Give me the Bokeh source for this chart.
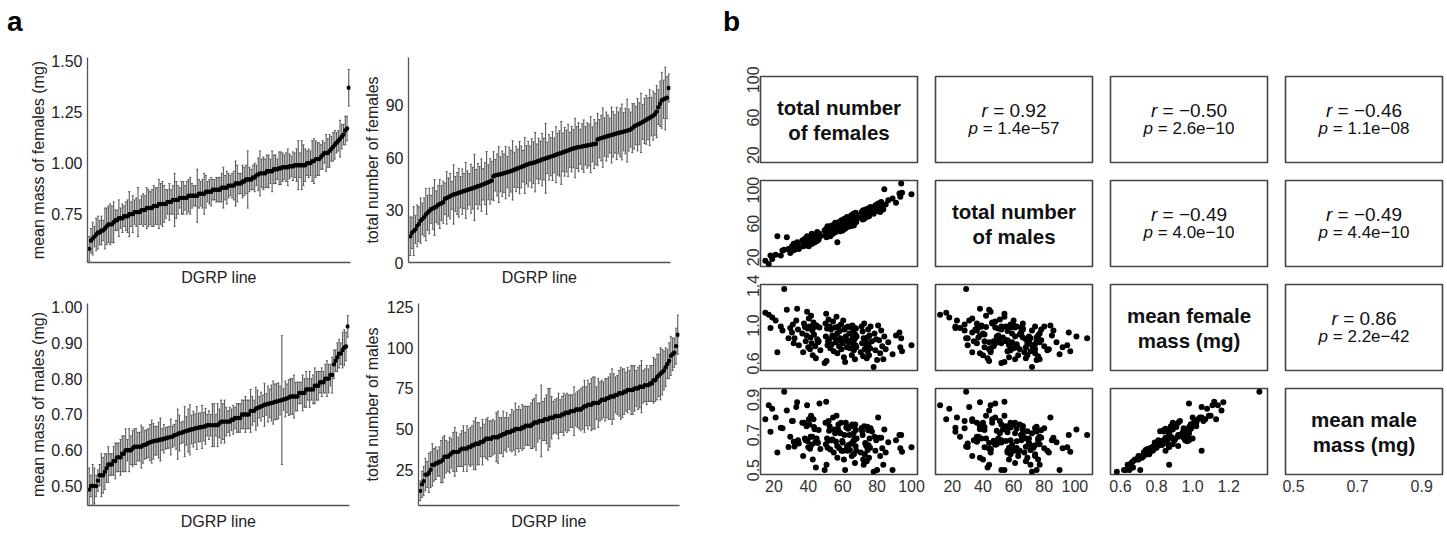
import numpy as np
from bokeh.plotting import figure
from bokeh.layouts import row, column
from bokeh.models import Label, FixedTicker, PrintfTickFormatter, Range1d, Div
from bokeh.embed import file_html
from bokeh.resources import INLINE

FONT = "Liberation Sans"
TXT_A = "#222222"
TXT_B = "#333333"

# ---------------- data (one entry per DGRP line) ----------------
females_n = [
    15, 17, 18, 19, 21, 22, 24, 25, 26, 27.5,
    28.5, 29.5, 30.5, 31, 31.5, 32, 33, 33.5, 34, 34.5,
    36.5, 37, 37.5, 38, 38.5, 39, 39.3, 39.6, 40, 40.3,
    40.6, 41, 41.3, 41.6, 42, 42.3, 42.6, 43, 43.3, 43.7,
    44, 44.4, 44.8, 45.2, 45.6, 46, 46.5, 47, 49.5, 50,
    50.2, 50.4, 50.6, 50.9, 51.2, 51.5, 51.8, 52.1, 52.4, 52.8,
    53.2, 53.6, 54, 54.4, 54.8, 55.2, 55.6, 56, 56.4, 56.8,
    56.9, 57.2, 57.5, 57.9, 58.2, 58.6, 59, 59.3, 59.7, 60,
    60.3, 60.7, 61, 61.4, 61.8, 62.1, 62.5, 62.8, 63.2, 63.5,
    63.9, 64.2, 64.6, 65, 65.3, 65.6, 65.9, 66.1, 66.3, 66.5,
    66.7, 66.9, 67.1, 67.3, 67.5, 67.7, 67.9, 68.1, 70.5, 71,
    71.3, 71.6, 71.9, 72.2, 72.5, 72.8, 73.1, 73.4, 73.7, 74,
    74.3, 74.5, 74.8, 75, 75.3, 75.6, 75.9, 76.2, 77, 78,
    78.5, 79, 79.5, 80, 80.6, 81.2, 81.8, 82.4, 83, 83.6,
    84.2, 85, 86.5, 89, 91, 93, 93.5, 94, 94.5, 100]

males_n = [
    16, 12, 22, 18, 23, 45, 22, 28, 29, 44,
    30, 25, 33, 28, 36, 29, 31, 38, 35, 30,
    40, 33, 36, 42, 34, 38, 45, 36, 41, 33,
    39, 44, 37, 42, 48, 36, 40, 46, 41, 38,
    47, 43, 39, 50, 44, 41, 48, 45, 52, 46,
    49, 54, 44, 50, 57, 47, 51, 49, 55, 45,
    52, 58, 50, 48, 56, 53, 61, 50, 54, 59,
    38, 55, 52, 62, 56, 51, 58, 64, 55, 52,
    60, 57, 66, 54, 61, 58, 68, 56, 62, 59,
    65, 60, 57, 70, 63, 60, 66, 62, 72, 58,
    65, 68, 61, 64, 73, 66, 62, 70, 67, 74,
    69, 65, 76, 71, 66, 74, 70, 77, 72, 68,
    75, 71, 78, 74, 69, 76, 73, 80, 75, 72,
    77, 82, 76, 75, 84, 78, 74, 86, 80, 77,
    101, 83, 88, 90, 85, 96, 92, 108, 97, 95]

female_mass = [
    1.13, 1.11, 0.975, 1.08, 1.05, 0.73, 0.99, 0.95, 1.37, 1.16,
    0.87, 0.975, 0.93, 1.01, 0.82, 0.87, 1.05, 1.17, 0.96, 0.80,
    0.92, 0.73, 1.02, 0.985, 0.84, 0.90, 1.14, 0.97, 0.78, 1.07,
    0.99, 0.76, 0.88, 1.10, 0.82, 0.95, 0.70, 1.03, 0.91, 0.985,
    0.79, 0.67, 1.00, 0.86, 0.83, 0.84, 0.98, 0.75, 0.62, 1.02,
    0.89, 1.12, 0.64, 0.97, 0.80, 0.84, 1.06, 0.86, 0.99, 0.77,
    0.96, 0.81, 0.90, 1.04, 0.74, 0.88, 0.98, 0.83, 1.09, 0.92,
    0.72, 0.85, 0.99, 0.79, 0.945, 0.87, 1.01, 0.76, 0.84, 0.82,
    1.05, 0.68, 0.96, 0.63, 0.89, 0.98, 0.78, 0.85, 0.99, 0.83,
    0.92, 0.77, 0.985, 0.84, 0.70, 1.00, 0.88, 0.81, 0.95, 0.75,
    0.98, 0.86, 0.66, 0.91, 0.80, 0.97, 0.78, 0.89, 0.73, 0.99,
    0.82, 0.94, 0.69, 0.87, 1.02, 0.76, 0.85, 0.83, 0.80, 0.67,
    0.88, 0.74, 0.96, 0.81, 0.70, 0.90, 0.77, 0.99, 0.84, 0.58,
    0.92, 0.75, 0.86, 0.65, 1.00, 0.85, 0.72, 0.95, 0.79, 0.66,
    0.89, 0.76, 0.83, 0.71, 0.90, 0.93, 0.78, 0.87, 0.74, 0.80]

male_mass = [
    0.79, 0.87, 0.718, 0.85, 0.80, 0.60, 0.742, 0.738, 0.946, 0.84,
    0.632, 0.69, 0.78, 0.78, 0.662, 0.635, 0.86, 0.887, 0.67, 0.652,
    0.77, 0.58, 0.77, 0.68, 0.67, 0.75, 0.87, 0.664, 0.63, 0.79,
    0.76, 0.622, 0.69, 0.81, 0.645, 0.69, 0.56, 0.79, 0.745, 0.733,
    0.658, 0.515, 0.68, 0.661, 0.655, 0.728, 0.88, 0.62, 0.50, 0.77,
    0.648, 0.89, 0.53, 0.68, 0.627, 0.667, 0.78, 0.724, 0.75, 0.617,
    0.67, 0.67, 0.675, 0.80, 0.60, 0.731, 0.71, 0.663, 0.81, 0.638,
    0.57, 0.736, 0.76, 0.626, 0.716, 0.71, 0.77, 0.61, 0.666, 0.657,
    0.61, 0.56, 0.70, 0.50, 0.77, 0.743, 0.633, 0.61, 0.735, 0.643,
    0.70, 0.614, 0.75, 0.651, 0.58, 0.76, 0.75, 0.665, 0.71, 0.59,
    0.67, 0.68, 0.54, 0.76, 0.636, 0.729, 0.61, 0.68, 0.60, 0.74,
    0.722, 0.70, 0.56, 0.53, 0.75, 0.59, 0.654, 0.648, 0.637, 0.55,
    0.747, 0.615, 0.727, 0.642, 0.57, 0.68, 0.628, 0.739, 0.72, 0.49,
    0.69, 0.61, 0.67, 0.50, 0.80, 0.685, 0.58, 0.685, 0.624, 0.53,
    0.732, 0.60, 0.659, 0.50, 0.67, 0.70, 0.625, 0.70, 0.605, 0.63]

females_err = [
    11, 9, 14, 8, 12, 10, 13, 9, 11, 15,
    10, 13, 8, 12, 16, 9, 11, 14, 10, 12,
    9, 15, 11, 13, 8, 17, 10, 12, 14, 9,
    13, 10, 16, 11, 9, 14, 12, 19, 10, 13,
    11, 15, 9, 12, 18, 10, 13, 11, 14, 9,
    12, 16, 10, 13, 11, 15, 9, 14, 12, 17,
    10, 13, 11, 15, 12, 9, 16, 11, 13, 10,
    14, 12, 17, 10, 13, 11, 15, 12, 20, 9,
    13, 11, 14, 10, 16, 12, 13, 18, 11, 14,
    12, 15, 10, 13, 11, 17, 12, 14, 10, 13,
    15, 11, 13, 12, 16, 10, 14, 12, 15, 11,
    13, 17, 11, 14, 12, 10, 16, 13, 11, 15,
    12, 14, 16, 11, 13, 18, 12, 10, 14, 13,
    11, 15, 12, 17, 10, 13, 14, 12, 16, 11,
    14, 12, 15, 10, 13, 16, 11, 18, 12, 8]

males_err = [
    8, 6, 10, 9, 12, 11, 8, 13, 10, 12,
    9, 11, 13, 10, 12, 8, 14, 11, 9, 13,
    12, 10, 15, 9, 11, 14, 10, 12, 16, 9,
    11, 13, 10, 14, 12, 9, 15, 11, 13, 10,
    14, 10, 12, 16, 11, 13, 9, 15, 12, 11,
    13, 15, 11, 12, 18, 10, 14, 12, 11, 16,
    12, 10, 14, 11, 13, 15, 10, 12, 17, 11,
    14, 22, 12, 10, 15, 13, 11, 16, 12, 14,
    11, 13, 16, 12, 10, 14, 12, 19, 11, 13,
    15, 12, 10, 14, 13, 11, 16, 12, 14, 10,
    13, 11, 15, 12, 14, 10, 13, 17, 12, 14,
    12, 16, 13, 11, 15, 12, 14, 10, 16, 13,
    14, 12, 11, 15, 13, 16, 12, 14, 11, 15,
    12, 14, 10, 13, 16, 11, 15, 12, 13, 10,
    11, 13, 12, 9, 14, 10, 11, 12, 9, 12]

female_mass_err = [
    0.06, 0.05, 0.08, 0.07, 0.05, 0.09, 0.06, 0.11, 0.09, 0.07,
    0.05, 0.08, 0.06, 0.10, 0.07, 0.05, 0.09, 0.06, 0.08, 0.12,
    0.07, 0.05, 0.09, 0.06, 0.08, 0.11, 0.05, 0.07, 0.10, 0.06,
    0.08, 0.06, 0.07, 0.05, 0.13, 0.07, 0.09, 0.06, 0.08, 0.05,
    0.10, 0.07, 0.06, 0.08, 0.05, 0.09, 0.07, 0.11, 0.06, 0.08,
    0.06, 0.09, 0.05, 0.07, 0.10, 0.06, 0.08, 0.05, 0.12, 0.07,
    0.08, 0.06, 0.09, 0.07, 0.05, 0.10, 0.06, 0.08, 0.07, 0.14,
    0.05, 0.07, 0.06, 0.09, 0.08, 0.06, 0.11, 0.07, 0.05, 0.09,
    0.07, 0.10, 0.06, 0.08, 0.05, 0.07, 0.09, 0.06, 0.12, 0.08,
    0.06, 0.08, 0.07, 0.05, 0.10, 0.07, 0.06, 0.09, 0.08, 0.06,
    0.09, 0.06, 0.08, 0.07, 0.11, 0.05, 0.08, 0.06, 0.07, 0.10,
    0.07, 0.05, 0.09, 0.06, 0.08, 0.12, 0.07, 0.06, 0.09, 0.05,
    0.08, 0.07, 0.10, 0.06, 0.09, 0.05, 0.07, 0.08, 0.13, 0.06,
    0.05, 0.09, 0.07, 0.08, 0.06, 0.10, 0.05, 0.07, 0.09, 0.06,
    0.07, 0.06, 0.08, 0.10, 0.05, 0.07, 0.09, 0.06, 0.08, 0.07]

male_mass_err = [
    0.03, 0.04, 0.05, 0.03, 0.04, 0.06, 0.03, 0.05, 0.03, 0.04,
    0.04, 0.03, 0.05, 0.04, 0.06, 0.03, 0.04, 0.05, 0.03, 0.07,
    0.05, 0.04, 0.03, 0.06, 0.04, 0.05, 0.03, 0.04, 0.06, 0.04,
    0.03, 0.05, 0.04, 0.03, 0.07, 0.04, 0.05, 0.03, 0.04, 0.06,
    0.04, 0.03, 0.05, 0.04, 0.06, 0.03, 0.05, 0.04, 0.03, 0.05,
    0.05, 0.04, 0.03, 0.06, 0.04, 0.05, 0.04, 0.03, 0.05, 0.04,
    0.03, 0.06, 0.04, 0.05, 0.03, 0.04, 0.06, 0.04, 0.05, 0.03,
    0.04, 0.05, 0.03, 0.04, 0.06, 0.04, 0.03, 0.05, 0.04, 0.07,
    0.05, 0.03, 0.04, 0.06, 0.04, 0.05, 0.03, 0.04, 0.05, 0.04,
    0.04, 0.05, 0.06, 0.03, 0.04, 0.05, 0.04, 0.06, 0.03, 0.05,
    0.06, 0.04, 0.05, 0.04, 0.03, 0.05, 0.04, 0.03, 0.06, 0.18,
    0.04, 0.05, 0.03, 0.06, 0.04, 0.05, 0.04, 0.03, 0.05, 0.04,
    0.05, 0.04, 0.06, 0.03, 0.05, 0.04, 0.05, 0.04, 0.03, 0.06,
    0.04, 0.06, 0.03, 0.05, 0.04, 0.03, 0.05, 0.04, 0.06, 0.05,
    0.05, 0.04, 0.05, 0.03, 0.06, 0.04, 0.05, 0.04, 0.05, 0.03]

# panel b: variable names, correlation texts, axes
diag_labels = [("total number", "of females"), ("total number", "of males"),
               ("mean female", "mass (mg)"), ("mean male", "mass (mg)")]
pair_cells = [(0, 1), (0, 2), (0, 3), (1, 2), (1, 3), (2, 3)]
r_values = ["0.92", "\u22120.50", "\u22120.46", "\u22120.49", "\u22120.49", "0.86"]
p_values = ["1.4e\u221257", "2.6e\u221210", "1.1e\u221208", "4.0e\u221210", "4.4e\u221210", "2.2e\u221242"]
b_ranges = [(12.2, 103.5), (9.0, 111.5), (0.545, 1.415), (0.475, 0.965)]
b_left_ticks = [[20, 60, 100], [20, 60, 100], [0.6, 1.0, 1.4], [0.5, 0.7, 0.9]]
b_bottom_ticks = [[20, 40, 60, 80, 100], [20, 40, 60, 80, 100], [0.6, 0.8, 1.0, 1.2], [0.5, 0.7, 0.9]]
b_formats = ["%d", "%d", "%.1f", "%.1f"]

# ---------------- helpers ----------------
LETTER_H = 40


def plain(p):
    p.xgrid.visible = False
    p.ygrid.visible = False
    p.background_fill_color = "white"
    p.border_fill_color = "white"


def letter_div(letter, pad_left, width):
    html = ('<div style="font-family: \'Liberation Sans\', Arial, sans-serif; font-size: 28px; '
            'font-weight: bold; line-height: 32px; margin: 0; padding: 6px 0 0 %dpx; color: #000;">%s</div>'
            % (pad_left, letter))
    return Div(text=html, width=width, height=LETTER_H, margin=0)


def panel_a(vals, errs, yr, ticks, fmt, ylabel, w, h, bl, br, bt, bb, ylab_standoff, xlab_standoff):
    v = np.asarray(vals, dtype=float)
    e = np.asarray(errs, dtype=float)
    order = np.argsort(v, kind="stable")
    v = v[order]
    e = e[order]
    x = np.arange(len(v), dtype=float)
    p = figure(width=w, height=h, x_range=Range1d(-1, len(v)), y_range=Range1d(*yr),
               output_backend="svg", toolbar_location=None,
               min_border_left=bl, min_border_right=br, min_border_top=bt, min_border_bottom=bb)
    plain(p)
    p.outline_line_color = None
    bar = "#5a5a5a"
    p.segment(x0=x, y0=v - e, x1=x, y1=v + e, line_color=bar, line_width=1.1)
    p.segment(x0=x - 0.6, y0=v + e, x1=x + 0.6, y1=v + e, line_color=bar, line_width=1)
    p.segment(x0=x - 0.6, y0=v - e, x1=x + 0.6, y1=v - e, line_color=bar, line_width=1)
    p.scatter(x=x, y=v, size=4.4, fill_color="black", line_color=None)

    ya = p.yaxis[0]
    ya.ticker = FixedTicker(ticks=ticks)
    ya.formatter = PrintfTickFormatter(format=fmt)
    ya.major_tick_line_color = None
    ya.minor_tick_line_color = None
    ya.major_tick_out = 0
    ya.major_tick_in = 0
    ya.major_label_standoff = 5
    ya.major_label_text_font = FONT
    ya.major_label_text_font_size = "16px"
    ya.major_label_text_color = TXT_A
    ya.axis_label = ylabel
    ya.axis_label_text_font = FONT
    ya.axis_label_text_font_size = "16px"
    ya.axis_label_text_font_style = "normal"
    ya.axis_label_text_color = TXT_A
    ya.axis_label_standoff = ylab_standoff
    ya.axis_line_color = "#555555"
    ya.axis_line_width = 1.3

    xa = p.xaxis[0]
    xa.ticker = FixedTicker(ticks=[])
    xa.major_tick_line_color = None
    xa.minor_tick_line_color = None
    xa.major_tick_out = 0
    xa.major_tick_in = 0
    xa.major_label_standoff = 0
    xa.axis_label = "DGRP line"
    xa.axis_label_text_font = FONT
    xa.axis_label_text_font_size = "16px"
    xa.axis_label_text_font_style = "normal"
    xa.axis_label_text_color = TXT_A
    xa.axis_label_standoff = xlab_standoff
    xa.axis_line_color = "#555555"
    xa.axis_line_width = 1.3
    return p


AW = {"0": .556, "1": .556, "2": .556, "3": .556, "4": .556, "5": .556, "6": .556,
      "7": .556, "8": .556, "9": .556, ".": .278, "=": .584, "\u2212": .584, "e": .556,
      " ": .278, "r": .333, "p": .556}


def tw(s, px):
    return sum(AW.get(c, 0.556) for c in s) * px


FW, FH = 157, 86
col_left = [60, 9, 9, 9]
col_right = [9, 9, 9, 2]
row_top = [76 - LETTER_H, 14, 14, 14]
row_bottom = [4, 4, 4, 26]
data_b = [females_n, males_n, female_mass, male_mass]


def lab(p, x, y, text, size, style="normal", align="center", color="#111111"):
    p.add_layout(Label(x=x, y=y, x_units="screen", y_units="screen", text=text,
                       text_align=align, text_baseline="middle", text_font=FONT,
                       text_font_style=style, text_font_size=size, text_color=color))


def panel_b(r, c):
    w = col_left[c] + FW + col_right[c]
    h = row_top[r] + FH + row_bottom[r]
    p = figure(width=w, height=h,
               x_range=Range1d(*b_ranges[c]), y_range=Range1d(*b_ranges[r]),
               output_backend="svg", toolbar_location=None,
               x_axis_location="below" if r == 3 else None,
               y_axis_location="left" if c == 0 else None,
               min_border_left=col_left[c], min_border_right=col_right[c],
               min_border_top=row_top[r], min_border_bottom=row_bottom[r])
    plain(p)
    p.outline_line_color = "#444444"
    p.outline_line_width = 1.6
    if c == 0:
        ya = p.yaxis[0]
        ya.ticker = FixedTicker(ticks=b_left_ticks[r])
        ya.formatter = PrintfTickFormatter(format=b_formats[r])
        ya.major_label_orientation = "vertical"
        ya.axis_line_color = None
        ya.major_tick_line_color = None
        ya.minor_tick_line_color = None
        ya.major_tick_out = 0
        ya.major_tick_in = 0
        ya.major_label_standoff = 1
        ya.major_label_text_font = FONT
        ya.major_label_text_font_size = "16px"
        ya.major_label_text_color = TXT_B
    if r == 3:
        xa = p.xaxis[0]
        xa.ticker = FixedTicker(ticks=b_bottom_ticks[c])
        xa.formatter = PrintfTickFormatter(format=b_formats[c])
        xa.axis_line_color = None
        xa.major_tick_line_color = None
        xa.minor_tick_line_color = None
        xa.major_tick_out = 0
        xa.major_tick_in = 0
        xa.major_label_standoff = 5
        xa.major_label_text_font = FONT
        xa.major_label_text_font_size = "16px"
        xa.major_label_text_color = TXT_B

    cx, cy = FW / 2, FH / 2
    if r == c:
        l1, l2 = diag_labels[r]
        lab(p, cx, cy + 12.5, l1, "20.5px", "bold")
        lab(p, cx, cy - 12.5, l2, "20.5px", "bold")
    elif r < c:
        k = pair_cells.index((r, c))
        for sym, val, px, dy in (("r", r_values[k], 19, 9), ("p", p_values[k], 17, -9)):
            rest = "= " + val
            ws = tw(sym, px)
            wsp = AW[" "] * px
            x0 = cx - (ws + wsp + tw(rest, px)) / 2
            lab(p, x0 + ws, cy + dy, sym, f"{px}px", "italic", "right")
            lab(p, x0 + ws + wsp, cy + dy, rest, f"{px}px", "normal", "left")
    else:
        p.scatter(x=data_b[c], y=data_b[r], size=6, fill_color="black", line_color=None)
    return p


# ---------------- panel a ----------------
tl = panel_a(female_mass, female_mass_err, (0.513, 1.518), [0.75, 1.0, 1.25, 1.5], "%.2f",
             "mean mass of females (mg)", 360, 290 - LETTER_H, 87, 10, 57 - LETTER_H, 28, 1, 6)
tr = panel_a(females_n, females_err, (0, 117.5), [0, 30, 60, 90], "%d",
             "total number of females", 340, 290 - LETTER_H, 48, 30, 53 - LETTER_H, 28, 2, 6)
bl = panel_a(male_mass, male_mass_err, (0.4455, 1.01), [0.5, 0.6, 0.7, 0.8, 0.9, 1.0], "%.2f",
             "mean mass of males (mg)", 360, 242, 87, 11, 13, 22, 1, 7)
br = panel_a(males_n, males_err, (3, 127.2), [25, 50, 75, 100, 125], "%d",
             "total number of males", 340, 242, 56, 21, 13, 22, 3, 7)

# ---------------- panel b ----------------
grid = [[panel_b(r, c) for c in range(4)] for r in range(4)]

left = column(letter_div("a", 7, 200), row(tl, tr), row(bl, br))
right = column(letter_div("b", 23, 200), *[row(*grid[r]) for r in range(4)])
layout = row(left, right)

open("out.html", "w").write(file_html(layout, INLINE, "DGRP"))
